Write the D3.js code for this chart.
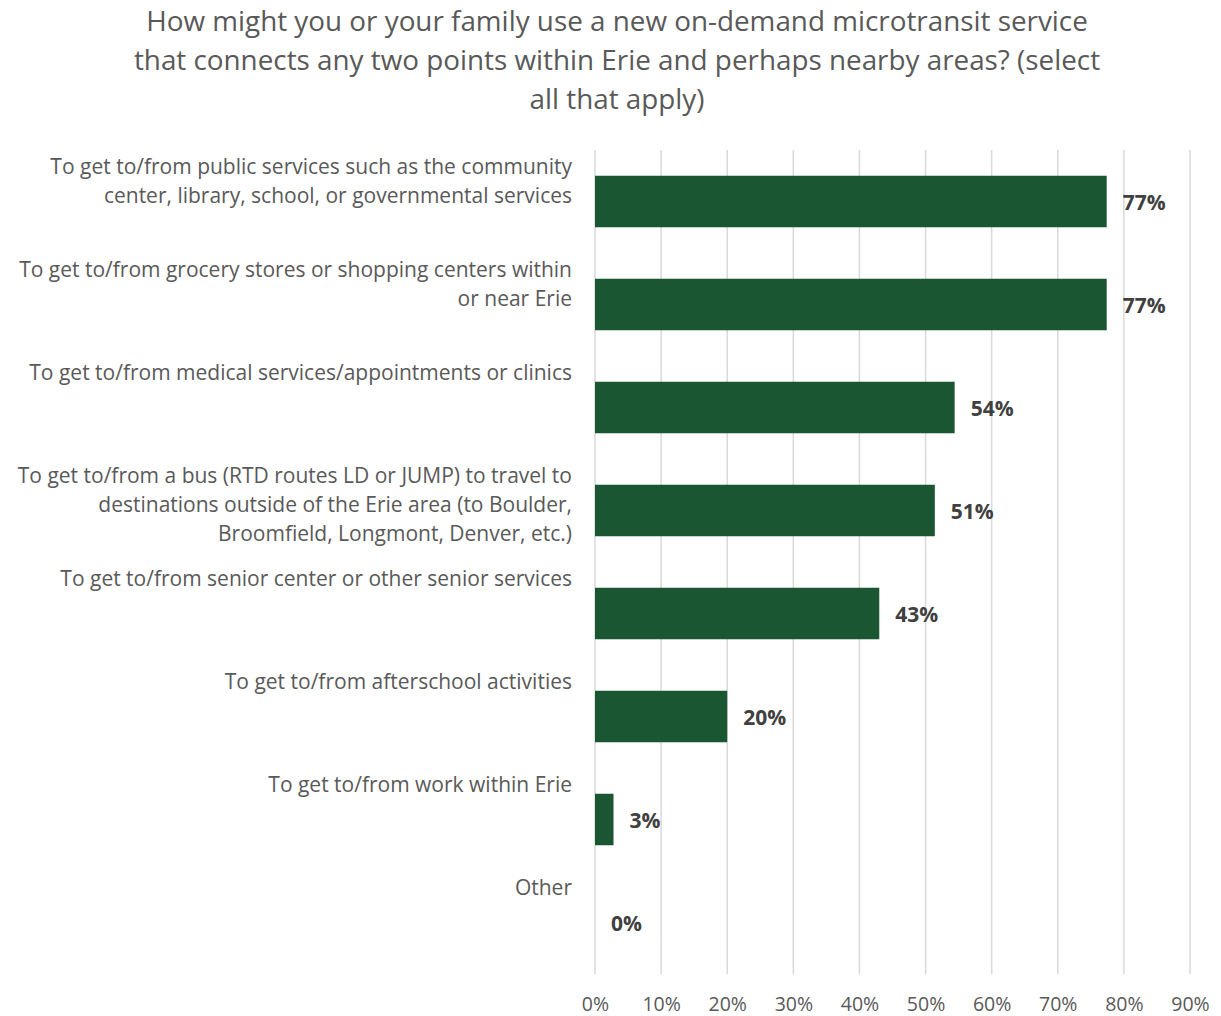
<!DOCTYPE html>
<html><head><meta charset="utf-8">
<script src="https://cdn.jsdelivr.net/npm/d3@7"></script>
<style>body{margin:0;background:#fff;} svg{display:block;}</style>
</head><body>
<svg id="chart" width="1221" height="1016"></svg>
<script>
const titleLines = [
  "How might you or your family use a new on-demand microtransit service",
  "that connects any two points within Erie and perhaps nearby areas? (select",
  "all that apply)"
];
const categories = [
  ["To get to/from public services such as the community", "center, library, school, or governmental services"],
  ["To get to/from grocery stores or shopping centers within", "or near Erie"],
  ["To get to/from medical services/appointments or clinics"],
  ["To get to/from a bus (RTD routes LD or JUMP) to travel to", "destinations outside of the Erie area (to Boulder,", "Broomfield, Longmont, Denver, etc.)"],
  ["To get to/from senior center or other senior services"],
  ["To get to/from afterschool activities"],
  ["To get to/from work within Erie"],
  ["Other"]
];
const values = [0.774, 0.774, 0.544, 0.514, 0.43, 0.20, 0.028, 0];
const tickValues = [0, 0.1, 0.2, 0.3, 0.4, 0.5, 0.6, 0.7, 0.8, 0.9];

(function () {
const svg = d3.select("#chart");
const FONT = "'Open Sans', Lato, sans-serif";
const pLeft = 595, pRight = 1190, pTop = 150, pBottom = 974;

const x = d3.scaleLinear().domain([0, 0.9]).range([pLeft, pRight]);
const y = d3.scaleBand().domain(d3.range(categories.length)).range([pTop, pBottom]).paddingInner(0.5).paddingOuter(0.25);

// title
const title = svg.append("g").selectAll("text").data(titleLines).join("text")
  .attr("x", 617).attr("y", (d, i) => 31 + i * 39)
  .attr("text-anchor", "middle")
  .attr("font-family", FONT).attr("font-size", 26).attr("fill", "#595959")
  .text(d => d);
const tw = title.nodes()[0].getComputedTextLength();
title.attr("font-size", 26 * 942 / tw);

// gridlines
svg.append("g").selectAll("line").data(tickValues).join("line")
  .attr("x1", d => x(d)).attr("x2", d => x(d))
  .attr("y1", pTop).attr("y2", pBottom)
  .attr("stroke", "#d9d9d9").attr("stroke-width", 1.5);

// x-axis tick labels
const xAxis = d3.axisBottom(x).tickValues(tickValues).tickFormat(d3.format(".0%")).tickSize(0).tickPadding(0);
const gx = svg.append("g").attr("transform", `translate(0,${pBottom})`).call(xAxis);
gx.select(".domain").remove();
gx.selectAll("text").attr("font-family", FONT).attr("font-size", 19.5).attr("fill", "#595959").attr("dy", "0").attr("y", 37);

// bars
svg.append("g").selectAll("rect").data(values).join("rect")
  .attr("x", x(0)).attr("y", (d, i) => y(i))
  .attr("width", d => x(d) - x(0)).attr("height", y.bandwidth())
  .attr("fill", "#1b5633");

// value labels
svg.append("g").selectAll("text").data(values).join("text")
  .attr("x", d => x(d) + 16).attr("y", (d, i) => y(i) + y.bandwidth() / 2 + 8)
  .attr("font-family", FONT).attr("font-size", 21).attr("font-weight", "bold").attr("fill", "#404040")
  .text(d => Math.round(d * 100) + "%");

// category labels
const lab = svg.append("g");
const labTexts = [];
categories.forEach((lines, i) => {
  const cy = y(i) + y.bandwidth() / 2;
  const t = lab.append("text")
    .attr("text-anchor", "end")
    .attr("font-family", FONT).attr("font-size", 20).attr("fill", "#595959");
  t.selectAll("tspan").data(lines).join("tspan")
    .attr("x", 572).attr("y", (d, j) => cy - 28 + j * 29)
    .text(d => d);
  labTexts.push(t);
});
const w0 = labTexts[0].select("tspan").node().getComputedTextLength();
lab.selectAll("text").attr("font-size", 20 * 522 / w0);
})();
</script>
</body></html>
